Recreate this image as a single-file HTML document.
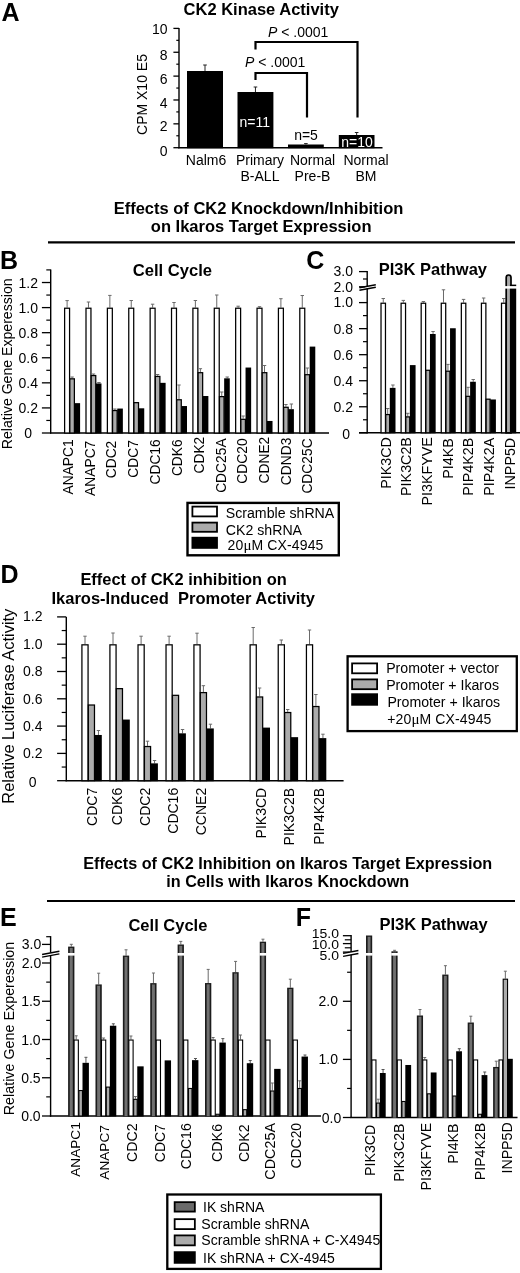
<!DOCTYPE html>
<html lang="en"><head><meta charset="utf-8"><title>CK2 Kinase Activity figure</title>
<style>html,body{margin:0;padding:0;background:#fff}svg{display:block;will-change:transform}text{font-family:'Liberation Sans', sans-serif}</style></head><body>
<svg width="520" height="1273" viewBox="0 0 520 1273">
<rect x="0" y="0" width="520" height="1273" fill="#fff"/>
<text x="1.40" y="20.50" font-size="25" text-anchor="start" font-weight="bold" fill="#000" >A</text>
<text x="261.20" y="14.80" font-size="16.5" text-anchor="middle" font-weight="bold" fill="#000" >CK2 Kinase Activity</text>
<line x1="179.00" y1="28.00" x2="179.00" y2="148.30" stroke="#000" stroke-width="1.4" />
<line x1="178.30" y1="147.70" x2="382.50" y2="147.70" stroke="#000" stroke-width="1.4" />
<line x1="173.40" y1="147.70" x2="179.00" y2="147.70" stroke="#000" stroke-width="1.3" />
<text x="167.60" y="156.00" font-size="14" text-anchor="end" font-weight="normal" fill="#000" >0</text>
<line x1="173.40" y1="123.84" x2="179.00" y2="123.84" stroke="#000" stroke-width="1.3" />
<text x="167.60" y="131.40" font-size="14" text-anchor="end" font-weight="normal" fill="#000" >2</text>
<line x1="173.40" y1="99.98" x2="179.00" y2="99.98" stroke="#000" stroke-width="1.3" />
<text x="167.60" y="107.60" font-size="14" text-anchor="end" font-weight="normal" fill="#000" >4</text>
<line x1="173.40" y1="76.12" x2="179.00" y2="76.12" stroke="#000" stroke-width="1.3" />
<text x="167.60" y="83.70" font-size="14" text-anchor="end" font-weight="normal" fill="#000" >6</text>
<line x1="173.40" y1="52.26" x2="179.00" y2="52.26" stroke="#000" stroke-width="1.3" />
<text x="167.60" y="59.60" font-size="14" text-anchor="end" font-weight="normal" fill="#000" >8</text>
<line x1="173.40" y1="28.40" x2="179.00" y2="28.40" stroke="#000" stroke-width="1.3" />
<text x="167.60" y="33.60" font-size="14" text-anchor="end" font-weight="normal" fill="#000" >10</text>
<line x1="176.30" y1="135.77" x2="179.00" y2="135.77" stroke="#000" stroke-width="1.2" />
<line x1="176.30" y1="111.91" x2="179.00" y2="111.91" stroke="#000" stroke-width="1.2" />
<line x1="176.30" y1="88.05" x2="179.00" y2="88.05" stroke="#000" stroke-width="1.2" />
<line x1="176.30" y1="64.19" x2="179.00" y2="64.19" stroke="#000" stroke-width="1.2" />
<line x1="176.30" y1="40.33" x2="179.00" y2="40.33" stroke="#000" stroke-width="1.2" />
<text transform="translate(146.50,94.50) rotate(-90)" font-size="14" text-anchor="middle" font-weight="normal">CPM X10 E5</text>
<rect x="187" y="71" width="36" height="77.19999999999999" fill="#000"/>
<line x1="205.00" y1="71.00" x2="205.00" y2="65.00" stroke="#222" stroke-width="1.0" />
<line x1="203.20" y1="65.00" x2="206.80" y2="65.00" stroke="#222" stroke-width="1.0" />
<rect x="237.5" y="92" width="35.89999999999998" height="56.19999999999999" fill="#000"/>
<line x1="255.45" y1="92.00" x2="255.45" y2="87.00" stroke="#222" stroke-width="1.0" />
<line x1="253.65" y1="87.00" x2="257.25" y2="87.00" stroke="#222" stroke-width="1.0" />
<rect x="288" y="144.5" width="35.80000000000001" height="3.6999999999999886" fill="#000"/>
<line x1="305.90" y1="144.50" x2="305.90" y2="143.60" stroke="#222" stroke-width="1.0" />
<line x1="304.10" y1="143.60" x2="307.70" y2="143.60" stroke="#222" stroke-width="1.0" />
<rect x="338.8" y="135" width="35.69999999999999" height="13.199999999999989" fill="#000"/>
<line x1="356.65" y1="135.00" x2="356.65" y2="132.50" stroke="#222" stroke-width="1.0" />
<line x1="354.85" y1="132.50" x2="358.45" y2="132.50" stroke="#222" stroke-width="1.0" />
<text x="254.80" y="126.80" font-size="14" text-anchor="middle" font-weight="normal" fill="#fff" >n=11</text>
<text x="306.00" y="140.30" font-size="14" text-anchor="middle" font-weight="normal" fill="#000" >n=5</text>
<text x="357.00" y="147.30" font-size="14" text-anchor="middle" font-weight="normal" fill="#fff" >n=10</text>
<path d="M255.5 49.5 V42 H357.5 V117.5" fill="none" stroke="#000" stroke-width="2.2"/>
<path d="M255.5 80 V73 H307 V117.5" fill="none" stroke="#000" stroke-width="2.2"/>
<text x="268" y="37" font-size="14"><tspan font-style="italic">P</tspan> &lt; .0001</text>
<text x="245" y="67" font-size="14"><tspan font-style="italic">P</tspan> &lt; .0001</text>
<text x="206.00" y="164.80" font-size="14" text-anchor="middle" font-weight="normal" fill="#000" >Nalm6</text>
<text x="260.00" y="164.80" font-size="14" text-anchor="middle" font-weight="normal" fill="#000" >Primary</text>
<text x="260.00" y="181.00" font-size="14" text-anchor="middle" font-weight="normal" fill="#000" >B-ALL</text>
<text x="312.50" y="164.80" font-size="14" text-anchor="middle" font-weight="normal" fill="#000" >Normal</text>
<text x="312.50" y="181.00" font-size="14" text-anchor="middle" font-weight="normal" fill="#000" >Pre-B</text>
<text x="366.00" y="164.80" font-size="14" text-anchor="middle" font-weight="normal" fill="#000" >Normal</text>
<text x="366.00" y="181.00" font-size="14" text-anchor="middle" font-weight="normal" fill="#000" >BM</text>
<text x="258.50" y="214.30" font-size="16.5" text-anchor="middle" font-weight="bold" fill="#000" >Effects of CK2 Knockdown/Inhibition</text>
<text x="261.20" y="231.50" font-size="16.5" text-anchor="middle" font-weight="bold" fill="#000" >on Ikaros Target Expression</text>
<line x1="48.00" y1="242.40" x2="515.00" y2="242.40" stroke="#000" stroke-width="2.2" />
<text x="0.10" y="268.80" font-size="25" text-anchor="start" font-weight="bold" fill="#000" >B</text>
<text x="172.40" y="276.20" font-size="16.6" text-anchor="middle" font-weight="bold" fill="#000" >Cell Cycle</text>
<line x1="50.70" y1="269.40" x2="50.70" y2="433.60" stroke="#000" stroke-width="1.4" />
<line x1="41.90" y1="433.00" x2="50.70" y2="433.00" stroke="#000" stroke-width="1.3" />
<line x1="41.90" y1="407.92" x2="50.70" y2="407.92" stroke="#000" stroke-width="1.3" />
<line x1="41.90" y1="382.84" x2="50.70" y2="382.84" stroke="#000" stroke-width="1.3" />
<line x1="41.90" y1="357.76" x2="50.70" y2="357.76" stroke="#000" stroke-width="1.3" />
<line x1="41.90" y1="332.68" x2="50.70" y2="332.68" stroke="#000" stroke-width="1.3" />
<line x1="41.90" y1="307.60" x2="50.70" y2="307.60" stroke="#000" stroke-width="1.3" />
<line x1="41.90" y1="282.52" x2="50.70" y2="282.52" stroke="#000" stroke-width="1.3" />
<line x1="46.30" y1="420.46" x2="50.70" y2="420.46" stroke="#000" stroke-width="1.2" />
<line x1="46.30" y1="395.38" x2="50.70" y2="395.38" stroke="#000" stroke-width="1.2" />
<line x1="46.30" y1="370.30" x2="50.70" y2="370.30" stroke="#000" stroke-width="1.2" />
<line x1="46.30" y1="345.22" x2="50.70" y2="345.22" stroke="#000" stroke-width="1.2" />
<line x1="46.30" y1="320.14" x2="50.70" y2="320.14" stroke="#000" stroke-width="1.2" />
<line x1="46.30" y1="295.06" x2="50.70" y2="295.06" stroke="#000" stroke-width="1.2" />
<line x1="46.30" y1="269.90" x2="50.70" y2="269.90" stroke="#000" stroke-width="1.2" />
<text x="28.20" y="438.00" font-size="14" text-anchor="middle" font-weight="normal" fill="#000" >0</text>
<text x="28.20" y="412.92" font-size="14" text-anchor="middle" font-weight="normal" fill="#000" >0.2</text>
<text x="28.20" y="387.84" font-size="14" text-anchor="middle" font-weight="normal" fill="#000" >0.4</text>
<text x="28.20" y="362.76" font-size="14" text-anchor="middle" font-weight="normal" fill="#000" >0.6</text>
<text x="28.20" y="337.68" font-size="14" text-anchor="middle" font-weight="normal" fill="#000" >0.8</text>
<text x="28.20" y="312.60" font-size="14" text-anchor="middle" font-weight="normal" fill="#000" >1.0</text>
<text x="28.20" y="287.52" font-size="14" text-anchor="middle" font-weight="normal" fill="#000" >1.2</text>
<line x1="50.00" y1="433.00" x2="329.00" y2="433.00" stroke="#000" stroke-width="1.4" />
<text transform="translate(12.30,363.80) rotate(-90)" font-size="14.1" text-anchor="middle" font-weight="normal">Relative Gene Experession</text>
<line x1="67.10" y1="307.60" x2="67.10" y2="300.60" stroke="#6a6a6a" stroke-width="1.0" />
<line x1="65.40" y1="300.60" x2="68.80" y2="300.60" stroke="#6a6a6a" stroke-width="1.0" />
<rect x="64.62" y="308.23" width="4.95" height="124.77" fill="#fff" stroke="#000" stroke-width="1.25" />
<line x1="72.10" y1="378.20" x2="72.10" y2="377.00" stroke="#6a6a6a" stroke-width="1.0" />
<line x1="70.40" y1="377.00" x2="73.80" y2="377.00" stroke="#6a6a6a" stroke-width="1.0" />
<rect x="69.83" y="378.83" width="4.55" height="54.17" fill="#ababab" stroke="#000" stroke-width="1.25" />
<rect x="74.50" y="403.15" width="5.60" height="30.35" fill="#000"/>
<text transform="translate(72.50,439.30) rotate(-90)" font-size="13.8" text-anchor="end" font-weight="normal">ANAPC1</text>
<line x1="88.48" y1="307.60" x2="88.48" y2="302.00" stroke="#6a6a6a" stroke-width="1.0" />
<line x1="86.78" y1="302.00" x2="90.18" y2="302.00" stroke="#6a6a6a" stroke-width="1.0" />
<rect x="86.00" y="308.23" width="4.95" height="124.77" fill="#fff" stroke="#000" stroke-width="1.25" />
<line x1="93.48" y1="374.94" x2="93.48" y2="374.00" stroke="#6a6a6a" stroke-width="1.0" />
<line x1="91.78" y1="374.00" x2="95.18" y2="374.00" stroke="#6a6a6a" stroke-width="1.0" />
<rect x="91.20" y="375.56" width="4.55" height="57.44" fill="#ababab" stroke="#000" stroke-width="1.25" />
<line x1="98.93" y1="383.47" x2="98.93" y2="382.50" stroke="#6a6a6a" stroke-width="1.0" />
<line x1="97.23" y1="382.50" x2="100.63" y2="382.50" stroke="#6a6a6a" stroke-width="1.0" />
<rect x="95.88" y="383.47" width="5.60" height="50.03" fill="#000"/>
<text transform="translate(94.50,440.70) rotate(-90)" font-size="13.8" text-anchor="end" font-weight="normal">ANAPC7</text>
<line x1="109.86" y1="307.60" x2="109.86" y2="295.40" stroke="#6a6a6a" stroke-width="1.0" />
<line x1="108.16" y1="295.40" x2="111.56" y2="295.40" stroke="#6a6a6a" stroke-width="1.0" />
<rect x="107.38" y="308.23" width="4.95" height="124.77" fill="#fff" stroke="#000" stroke-width="1.25" />
<line x1="114.86" y1="409.93" x2="114.86" y2="409.00" stroke="#6a6a6a" stroke-width="1.0" />
<line x1="113.16" y1="409.00" x2="116.56" y2="409.00" stroke="#6a6a6a" stroke-width="1.0" />
<rect x="112.58" y="410.55" width="4.55" height="22.45" fill="#ababab" stroke="#000" stroke-width="1.25" />
<rect x="117.26" y="408.55" width="5.60" height="24.95" fill="#000"/>
<text transform="translate(116.10,440.70) rotate(-90)" font-size="13.8" text-anchor="end" font-weight="normal">CDC2</text>
<line x1="131.24" y1="307.60" x2="131.24" y2="300.50" stroke="#6a6a6a" stroke-width="1.0" />
<line x1="129.54" y1="300.50" x2="132.94" y2="300.50" stroke="#6a6a6a" stroke-width="1.0" />
<rect x="128.76" y="308.23" width="4.95" height="124.77" fill="#fff" stroke="#000" stroke-width="1.25" />
<rect x="133.96" y="402.65" width="4.55" height="30.35" fill="#ababab" stroke="#000" stroke-width="1.25" />
<rect x="138.64" y="408.30" width="5.60" height="25.20" fill="#000"/>
<text transform="translate(138.20,440.10) rotate(-90)" font-size="13.8" text-anchor="end" font-weight="normal">CDC7</text>
<line x1="152.62" y1="307.60" x2="152.62" y2="304.20" stroke="#6a6a6a" stroke-width="1.0" />
<line x1="150.92" y1="304.20" x2="154.32" y2="304.20" stroke="#6a6a6a" stroke-width="1.0" />
<rect x="150.14" y="308.23" width="4.95" height="124.77" fill="#fff" stroke="#000" stroke-width="1.25" />
<line x1="157.62" y1="375.82" x2="157.62" y2="374.50" stroke="#6a6a6a" stroke-width="1.0" />
<line x1="155.92" y1="374.50" x2="159.32" y2="374.50" stroke="#6a6a6a" stroke-width="1.0" />
<rect x="155.34" y="376.44" width="4.55" height="56.56" fill="#ababab" stroke="#000" stroke-width="1.25" />
<rect x="160.02" y="382.84" width="5.60" height="50.66" fill="#000"/>
<text transform="translate(159.90,439.30) rotate(-90)" font-size="13.8" text-anchor="end" font-weight="normal">CDC16</text>
<line x1="174.00" y1="307.60" x2="174.00" y2="302.50" stroke="#6a6a6a" stroke-width="1.0" />
<line x1="172.30" y1="302.50" x2="175.70" y2="302.50" stroke="#6a6a6a" stroke-width="1.0" />
<rect x="171.52" y="308.23" width="4.95" height="124.77" fill="#fff" stroke="#000" stroke-width="1.25" />
<line x1="179.00" y1="399.14" x2="179.00" y2="385.00" stroke="#6a6a6a" stroke-width="1.0" />
<line x1="177.30" y1="385.00" x2="180.70" y2="385.00" stroke="#6a6a6a" stroke-width="1.0" />
<rect x="176.72" y="399.77" width="4.55" height="33.23" fill="#ababab" stroke="#000" stroke-width="1.25" />
<rect x="181.40" y="406.04" width="5.60" height="27.46" fill="#000"/>
<text transform="translate(181.70,439.30) rotate(-90)" font-size="13.8" text-anchor="end" font-weight="normal">CDK6</text>
<line x1="195.38" y1="307.60" x2="195.38" y2="300.50" stroke="#6a6a6a" stroke-width="1.0" />
<line x1="193.68" y1="300.50" x2="197.08" y2="300.50" stroke="#6a6a6a" stroke-width="1.0" />
<rect x="192.91" y="308.23" width="4.95" height="124.77" fill="#fff" stroke="#000" stroke-width="1.25" />
<line x1="200.38" y1="372.06" x2="200.38" y2="368.70" stroke="#6a6a6a" stroke-width="1.0" />
<line x1="198.68" y1="368.70" x2="202.08" y2="368.70" stroke="#6a6a6a" stroke-width="1.0" />
<rect x="198.10" y="372.68" width="4.55" height="60.32" fill="#ababab" stroke="#000" stroke-width="1.25" />
<rect x="202.78" y="396.01" width="5.60" height="37.49" fill="#000"/>
<text transform="translate(203.70,436.70) rotate(-90)" font-size="13.8" text-anchor="end" font-weight="normal">CDK2</text>
<line x1="216.76" y1="307.60" x2="216.76" y2="295.00" stroke="#6a6a6a" stroke-width="1.0" />
<line x1="215.06" y1="295.00" x2="218.46" y2="295.00" stroke="#6a6a6a" stroke-width="1.0" />
<rect x="214.28" y="308.23" width="4.95" height="124.77" fill="#fff" stroke="#000" stroke-width="1.25" />
<line x1="221.76" y1="396.01" x2="221.76" y2="392.00" stroke="#6a6a6a" stroke-width="1.0" />
<line x1="220.06" y1="392.00" x2="223.46" y2="392.00" stroke="#6a6a6a" stroke-width="1.0" />
<rect x="219.48" y="396.63" width="4.55" height="36.37" fill="#ababab" stroke="#000" stroke-width="1.25" />
<line x1="227.21" y1="378.33" x2="227.21" y2="377.00" stroke="#6a6a6a" stroke-width="1.0" />
<line x1="225.51" y1="377.00" x2="228.91" y2="377.00" stroke="#6a6a6a" stroke-width="1.0" />
<rect x="224.16" y="378.33" width="5.60" height="55.17" fill="#000"/>
<text transform="translate(225.70,438.40) rotate(-90)" font-size="13.8" text-anchor="end" font-weight="normal">CDC25A</text>
<line x1="238.14" y1="307.60" x2="238.14" y2="306.20" stroke="#6a6a6a" stroke-width="1.0" />
<line x1="236.44" y1="306.20" x2="239.84" y2="306.20" stroke="#6a6a6a" stroke-width="1.0" />
<rect x="235.66" y="308.23" width="4.95" height="124.77" fill="#fff" stroke="#000" stroke-width="1.25" />
<line x1="243.14" y1="418.70" x2="243.14" y2="416.00" stroke="#6a6a6a" stroke-width="1.0" />
<line x1="241.44" y1="416.00" x2="244.84" y2="416.00" stroke="#6a6a6a" stroke-width="1.0" />
<rect x="240.86" y="419.33" width="4.55" height="13.67" fill="#ababab" stroke="#000" stroke-width="1.25" />
<rect x="245.54" y="367.54" width="5.60" height="65.96" fill="#000"/>
<text transform="translate(247.20,438.40) rotate(-90)" font-size="13.8" text-anchor="end" font-weight="normal">CDC20</text>
<line x1="259.52" y1="307.60" x2="259.52" y2="306.70" stroke="#6a6a6a" stroke-width="1.0" />
<line x1="257.82" y1="306.70" x2="261.22" y2="306.70" stroke="#6a6a6a" stroke-width="1.0" />
<rect x="257.04" y="308.23" width="4.95" height="124.77" fill="#fff" stroke="#000" stroke-width="1.25" />
<line x1="264.52" y1="372.06" x2="264.52" y2="365.50" stroke="#6a6a6a" stroke-width="1.0" />
<line x1="262.82" y1="365.50" x2="266.22" y2="365.50" stroke="#6a6a6a" stroke-width="1.0" />
<rect x="262.24" y="372.68" width="4.55" height="60.32" fill="#ababab" stroke="#000" stroke-width="1.25" />
<rect x="266.92" y="420.96" width="5.60" height="12.54" fill="#000"/>
<text transform="translate(269.10,436.70) rotate(-90)" font-size="13.8" text-anchor="end" font-weight="normal">CDNE2</text>
<line x1="280.90" y1="307.60" x2="280.90" y2="298.70" stroke="#6a6a6a" stroke-width="1.0" />
<line x1="279.20" y1="298.70" x2="282.60" y2="298.70" stroke="#6a6a6a" stroke-width="1.0" />
<rect x="278.42" y="308.23" width="4.95" height="124.77" fill="#fff" stroke="#000" stroke-width="1.25" />
<line x1="285.90" y1="406.67" x2="285.90" y2="404.50" stroke="#6a6a6a" stroke-width="1.0" />
<line x1="284.20" y1="404.50" x2="287.60" y2="404.50" stroke="#6a6a6a" stroke-width="1.0" />
<rect x="283.62" y="407.29" width="4.55" height="25.71" fill="#ababab" stroke="#000" stroke-width="1.25" />
<line x1="291.35" y1="409.17" x2="291.35" y2="404.00" stroke="#6a6a6a" stroke-width="1.0" />
<line x1="289.65" y1="404.00" x2="293.05" y2="404.00" stroke="#6a6a6a" stroke-width="1.0" />
<rect x="288.30" y="409.17" width="5.60" height="24.33" fill="#000"/>
<text transform="translate(290.90,437.60) rotate(-90)" font-size="13.8" text-anchor="end" font-weight="normal">CDND3</text>
<line x1="302.28" y1="307.60" x2="302.28" y2="295.50" stroke="#6a6a6a" stroke-width="1.0" />
<line x1="300.58" y1="295.50" x2="303.98" y2="295.50" stroke="#6a6a6a" stroke-width="1.0" />
<rect x="299.80" y="308.23" width="4.95" height="124.77" fill="#fff" stroke="#000" stroke-width="1.25" />
<line x1="307.28" y1="374.06" x2="307.28" y2="368.00" stroke="#6a6a6a" stroke-width="1.0" />
<line x1="305.58" y1="368.00" x2="308.98" y2="368.00" stroke="#6a6a6a" stroke-width="1.0" />
<rect x="305.00" y="374.69" width="4.55" height="58.31" fill="#ababab" stroke="#000" stroke-width="1.25" />
<rect x="309.68" y="346.60" width="5.60" height="86.90" fill="#000"/>
<text transform="translate(312.40,438.40) rotate(-90)" font-size="13.8" text-anchor="end" font-weight="normal">CDC25C</text>
<rect x="187.50" y="502.90" width="151.30" height="52.40" fill="none" stroke="#000" stroke-width="2.4" />
<rect x="192.40" y="506.60" width="24.60" height="9.80" fill="#fff" stroke="#000" stroke-width="1.8" />
<rect x="192.40" y="522.60" width="24.60" height="9.20" fill="#ababab" stroke="#000" stroke-width="1.8" />
<rect x="192.40" y="537.70" width="24.60" height="10.20" fill="#000" stroke="#000" stroke-width="1.8" />
<text x="225.80" y="518.00" font-size="14.15" text-anchor="start" font-weight="normal" fill="#000" >Scramble shRNA</text>
<text x="225.80" y="534.80" font-size="14.15" text-anchor="start" font-weight="normal" fill="#000" >CK2 shRNA</text>
<text x="227.6" y="549.8" font-size="14" letter-spacing="0.12">20<tspan font-size="15" font-family="'Liberation Serif', 'DejaVu Serif', serif">&#956;</tspan>M CX-4945</text>
<text x="306.30" y="269.40" font-size="25" text-anchor="start" font-weight="bold" fill="#000" >C</text>
<text x="432.90" y="275.00" font-size="16.5" text-anchor="middle" font-weight="bold" fill="#000" >PI3K Pathway</text>
<line x1="367.20" y1="271.00" x2="367.20" y2="433.40" stroke="#000" stroke-width="1.4" />
<line x1="359.00" y1="432.80" x2="367.20" y2="432.80" stroke="#000" stroke-width="1.3" />
<line x1="359.00" y1="406.76" x2="367.20" y2="406.76" stroke="#000" stroke-width="1.3" />
<line x1="359.00" y1="380.72" x2="367.20" y2="380.72" stroke="#000" stroke-width="1.3" />
<line x1="359.00" y1="354.68" x2="367.20" y2="354.68" stroke="#000" stroke-width="1.3" />
<line x1="359.00" y1="328.64" x2="367.20" y2="328.64" stroke="#000" stroke-width="1.3" />
<line x1="359.00" y1="302.60" x2="367.20" y2="302.60" stroke="#000" stroke-width="1.3" />
<line x1="359.00" y1="271.60" x2="367.20" y2="271.60" stroke="#000" stroke-width="1.3" />
<line x1="359.00" y1="286.80" x2="367.20" y2="286.80" stroke="#000" stroke-width="1.3" />
<line x1="363.00" y1="419.78" x2="367.20" y2="419.78" stroke="#000" stroke-width="1.2" />
<line x1="363.00" y1="393.74" x2="367.20" y2="393.74" stroke="#000" stroke-width="1.2" />
<line x1="363.00" y1="367.70" x2="367.20" y2="367.70" stroke="#000" stroke-width="1.2" />
<line x1="363.00" y1="341.66" x2="367.20" y2="341.66" stroke="#000" stroke-width="1.2" />
<line x1="363.00" y1="315.62" x2="367.20" y2="315.62" stroke="#000" stroke-width="1.2" />
<line x1="363.00" y1="279.00" x2="367.20" y2="279.00" stroke="#000" stroke-width="1.2" />
<text x="353.00" y="411.76" font-size="14" text-anchor="end" font-weight="normal" fill="#000" >0.2</text>
<text x="353.00" y="385.72" font-size="14" text-anchor="end" font-weight="normal" fill="#000" >0.4</text>
<text x="353.00" y="359.68" font-size="14" text-anchor="end" font-weight="normal" fill="#000" >0.6</text>
<text x="353.00" y="333.64" font-size="14" text-anchor="end" font-weight="normal" fill="#000" >0.8</text>
<text x="353.00" y="306.80" font-size="14" text-anchor="end" font-weight="normal" fill="#000" >1.0</text>
<text x="350.00" y="439.10" font-size="14" text-anchor="end" font-weight="normal" fill="#000" >0</text>
<text x="353.00" y="292.00" font-size="14" text-anchor="end" font-weight="normal" fill="#000" >2.0</text>
<text x="353.00" y="275.50" font-size="14" text-anchor="end" font-weight="normal" fill="#000" >3.0</text>
<rect x="365.2" y="286.05" width="4" height="2.50" fill="#fff"/>
<line x1="359.40" y1="287.70" x2="375.80" y2="284.80" stroke="#000" stroke-width="1.4" />
<line x1="359.40" y1="290.20" x2="375.80" y2="287.30" stroke="#000" stroke-width="1.4" />
<line x1="359.00" y1="432.80" x2="520.00" y2="432.80" stroke="#000" stroke-width="1.4" />
<line x1="383.25" y1="302.60" x2="383.25" y2="298.50" stroke="#6a6a6a" stroke-width="1.0" />
<line x1="381.55" y1="298.50" x2="384.95" y2="298.50" stroke="#6a6a6a" stroke-width="1.0" />
<rect x="381.02" y="303.23" width="4.45" height="129.57" fill="#fff" stroke="#000" stroke-width="1.25" />
<line x1="387.70" y1="413.92" x2="387.70" y2="408.50" stroke="#6a6a6a" stroke-width="1.0" />
<line x1="386.00" y1="408.50" x2="389.40" y2="408.50" stroke="#6a6a6a" stroke-width="1.0" />
<rect x="385.72" y="414.55" width="3.95" height="18.25" fill="#ababab" stroke="#000" stroke-width="1.25" />
<line x1="392.90" y1="387.88" x2="392.90" y2="385.00" stroke="#6a6a6a" stroke-width="1.0" />
<line x1="391.20" y1="385.00" x2="394.60" y2="385.00" stroke="#6a6a6a" stroke-width="1.0" />
<rect x="389.80" y="387.88" width="5.70" height="45.42" fill="#000"/>
<text transform="translate(390.60,437.10) rotate(-90)" font-size="14.3" text-anchor="end" font-weight="normal">PIK3CD</text>
<line x1="403.33" y1="302.60" x2="403.33" y2="300.40" stroke="#6a6a6a" stroke-width="1.0" />
<line x1="401.63" y1="300.40" x2="405.03" y2="300.40" stroke="#6a6a6a" stroke-width="1.0" />
<rect x="401.10" y="303.23" width="4.45" height="129.57" fill="#fff" stroke="#000" stroke-width="1.25" />
<line x1="407.78" y1="416.26" x2="407.78" y2="413.30" stroke="#6a6a6a" stroke-width="1.0" />
<line x1="406.08" y1="413.30" x2="409.48" y2="413.30" stroke="#6a6a6a" stroke-width="1.0" />
<rect x="405.80" y="416.89" width="3.95" height="15.91" fill="#ababab" stroke="#000" stroke-width="1.25" />
<rect x="409.88" y="365.10" width="5.70" height="68.20" fill="#000"/>
<text transform="translate(411.00,437.10) rotate(-90)" font-size="14.3" text-anchor="end" font-weight="normal">PIK3C2B</text>
<line x1="423.41" y1="302.60" x2="423.41" y2="301.50" stroke="#6a6a6a" stroke-width="1.0" />
<line x1="421.71" y1="301.50" x2="425.11" y2="301.50" stroke="#6a6a6a" stroke-width="1.0" />
<rect x="421.18" y="303.23" width="4.45" height="129.57" fill="#fff" stroke="#000" stroke-width="1.25" />
<rect x="425.88" y="370.28" width="3.95" height="62.52" fill="#ababab" stroke="#000" stroke-width="1.25" />
<line x1="433.06" y1="333.98" x2="433.06" y2="331.50" stroke="#6a6a6a" stroke-width="1.0" />
<line x1="431.36" y1="331.50" x2="434.76" y2="331.50" stroke="#6a6a6a" stroke-width="1.0" />
<rect x="429.96" y="333.98" width="5.70" height="99.32" fill="#000"/>
<text transform="translate(432.20,437.10) rotate(-90)" font-size="14.3" text-anchor="end" font-weight="normal">PI3KFYVE</text>
<line x1="443.49" y1="302.60" x2="443.49" y2="289.80" stroke="#6a6a6a" stroke-width="1.0" />
<line x1="441.79" y1="289.80" x2="445.19" y2="289.80" stroke="#6a6a6a" stroke-width="1.0" />
<rect x="441.26" y="303.23" width="4.45" height="129.57" fill="#fff" stroke="#000" stroke-width="1.25" />
<line x1="447.94" y1="370.56" x2="447.94" y2="364.40" stroke="#6a6a6a" stroke-width="1.0" />
<line x1="446.24" y1="364.40" x2="449.64" y2="364.40" stroke="#6a6a6a" stroke-width="1.0" />
<rect x="445.96" y="371.19" width="3.95" height="61.61" fill="#ababab" stroke="#000" stroke-width="1.25" />
<rect x="450.04" y="328.25" width="5.70" height="105.05" fill="#000"/>
<text transform="translate(452.70,438.20) rotate(-90)" font-size="14.3" text-anchor="end" font-weight="normal">PI4KB</text>
<line x1="463.57" y1="302.60" x2="463.57" y2="299.40" stroke="#6a6a6a" stroke-width="1.0" />
<line x1="461.87" y1="299.40" x2="465.27" y2="299.40" stroke="#6a6a6a" stroke-width="1.0" />
<rect x="461.34" y="303.23" width="4.45" height="129.57" fill="#fff" stroke="#000" stroke-width="1.25" />
<line x1="468.02" y1="395.69" x2="468.02" y2="387.30" stroke="#6a6a6a" stroke-width="1.0" />
<line x1="466.32" y1="387.30" x2="469.72" y2="387.30" stroke="#6a6a6a" stroke-width="1.0" />
<rect x="466.04" y="396.32" width="3.95" height="36.48" fill="#ababab" stroke="#000" stroke-width="1.25" />
<line x1="473.22" y1="381.76" x2="473.22" y2="379.50" stroke="#6a6a6a" stroke-width="1.0" />
<line x1="471.52" y1="379.50" x2="474.92" y2="379.50" stroke="#6a6a6a" stroke-width="1.0" />
<rect x="470.12" y="381.76" width="5.70" height="51.54" fill="#000"/>
<text transform="translate(473.30,437.80) rotate(-90)" font-size="14.3" text-anchor="end" font-weight="normal">PIP4K2B</text>
<line x1="483.65" y1="302.60" x2="483.65" y2="298.00" stroke="#6a6a6a" stroke-width="1.0" />
<line x1="481.95" y1="298.00" x2="485.35" y2="298.00" stroke="#6a6a6a" stroke-width="1.0" />
<rect x="481.42" y="303.23" width="4.45" height="129.57" fill="#fff" stroke="#000" stroke-width="1.25" />
<rect x="486.12" y="399.18" width="3.95" height="33.62" fill="#ababab" stroke="#000" stroke-width="1.25" />
<rect x="490.20" y="399.47" width="5.70" height="33.83" fill="#000"/>
<text transform="translate(493.70,437.80) rotate(-90)" font-size="14.3" text-anchor="end" font-weight="normal">PIP4K2A</text>
<line x1="503.73" y1="302.60" x2="503.73" y2="298.50" stroke="#6a6a6a" stroke-width="1.0" />
<line x1="502.03" y1="298.50" x2="505.43" y2="298.50" stroke="#6a6a6a" stroke-width="1.0" />
<rect x="501.50" y="303.23" width="4.45" height="129.57" fill="#fff" stroke="#000" stroke-width="1.25" />
<path d="M506.2 432.8 V277.6 Q506.2 275 508.6 275 Q511 275 511 277.6 V432.8 Z" fill="#ababab" stroke="#000" stroke-width="1.7"/>
<rect x="509.9" y="284.6" width="6.3" height="148.70" fill="#000"/>
<rect x="504" y="286.1" width="13.5" height="2.5" fill="#fff"/>
<text transform="translate(515.10,437.80) rotate(-90)" font-size="14.3" text-anchor="end" font-weight="normal">INPP5D</text>
<text x="0.40" y="582.90" font-size="25" text-anchor="start" font-weight="bold" fill="#000" >D</text>
<text x="183.60" y="585.00" font-size="16.45" text-anchor="middle" font-weight="bold" fill="#000" >Effect of CK2 inhibition on</text>
<text x="183.20" y="604.40" font-size="16.5" text-anchor="middle" font-weight="bold" fill="#000" >Ikaros-Induced&#160; Promoter Activity</text>
<line x1="66.30" y1="616.90" x2="66.30" y2="781.30" stroke="#000" stroke-width="1.4" />
<line x1="57.10" y1="780.70" x2="66.30" y2="780.70" stroke="#000" stroke-width="1.3" />
<line x1="57.10" y1="753.40" x2="66.30" y2="753.40" stroke="#000" stroke-width="1.3" />
<line x1="57.10" y1="726.10" x2="66.30" y2="726.10" stroke="#000" stroke-width="1.3" />
<line x1="57.10" y1="698.80" x2="66.30" y2="698.80" stroke="#000" stroke-width="1.3" />
<line x1="57.10" y1="671.50" x2="66.30" y2="671.50" stroke="#000" stroke-width="1.3" />
<line x1="57.10" y1="644.20" x2="66.30" y2="644.20" stroke="#000" stroke-width="1.3" />
<line x1="57.10" y1="616.90" x2="66.30" y2="616.90" stroke="#000" stroke-width="1.3" />
<line x1="61.70" y1="767.05" x2="66.30" y2="767.05" stroke="#000" stroke-width="1.2" />
<line x1="61.70" y1="739.75" x2="66.30" y2="739.75" stroke="#000" stroke-width="1.2" />
<line x1="61.70" y1="712.45" x2="66.30" y2="712.45" stroke="#000" stroke-width="1.2" />
<line x1="61.70" y1="685.15" x2="66.30" y2="685.15" stroke="#000" stroke-width="1.2" />
<line x1="61.70" y1="657.85" x2="66.30" y2="657.85" stroke="#000" stroke-width="1.2" />
<line x1="61.70" y1="630.55" x2="66.30" y2="630.55" stroke="#000" stroke-width="1.2" />
<text x="32.70" y="787.30" font-size="14" text-anchor="middle" font-weight="normal" fill="#000" >0</text>
<text x="32.70" y="758.10" font-size="14" text-anchor="middle" font-weight="normal" fill="#000" >0.2</text>
<text x="32.70" y="730.80" font-size="14" text-anchor="middle" font-weight="normal" fill="#000" >0.4</text>
<text x="32.70" y="703.50" font-size="14" text-anchor="middle" font-weight="normal" fill="#000" >0.6</text>
<text x="32.70" y="676.20" font-size="14" text-anchor="middle" font-weight="normal" fill="#000" >0.8</text>
<text x="32.70" y="648.90" font-size="14" text-anchor="middle" font-weight="normal" fill="#000" >1.0</text>
<text x="32.70" y="621.10" font-size="14" text-anchor="middle" font-weight="normal" fill="#000" >1.2</text>
<line x1="65.60" y1="780.70" x2="343.60" y2="780.70" stroke="#000" stroke-width="1.4" />
<text transform="translate(14.40,706.20) rotate(-90)" font-size="16.4" text-anchor="middle" font-weight="normal">Relative Luciferase Activity</text>
<line x1="85.00" y1="644.20" x2="85.00" y2="636.20" stroke="#6a6a6a" stroke-width="1.0" />
<line x1="83.30" y1="636.20" x2="86.70" y2="636.20" stroke="#6a6a6a" stroke-width="1.0" />
<rect x="81.92" y="644.83" width="6.15" height="135.88" fill="#fff" stroke="#000" stroke-width="1.25" />
<rect x="88.33" y="705.02" width="6.15" height="75.68" fill="#ababab" stroke="#000" stroke-width="1.25" />
<line x1="98.45" y1="734.97" x2="98.45" y2="730.50" stroke="#6a6a6a" stroke-width="1.0" />
<line x1="96.75" y1="730.50" x2="100.15" y2="730.50" stroke="#6a6a6a" stroke-width="1.0" />
<rect x="94.60" y="734.97" width="7.20" height="46.23" fill="#000"/>
<text transform="translate(96.50,787.80) rotate(-90)" font-size="14" text-anchor="end" font-weight="normal">CDC7</text>
<line x1="113.00" y1="644.20" x2="113.00" y2="633.00" stroke="#6a6a6a" stroke-width="1.0" />
<line x1="111.30" y1="633.00" x2="114.70" y2="633.00" stroke="#6a6a6a" stroke-width="1.0" />
<rect x="109.92" y="644.83" width="6.15" height="135.88" fill="#fff" stroke="#000" stroke-width="1.25" />
<rect x="116.33" y="688.64" width="6.15" height="92.06" fill="#ababab" stroke="#000" stroke-width="1.25" />
<rect x="122.60" y="719.55" width="7.20" height="61.65" fill="#000"/>
<text transform="translate(122.10,787.80) rotate(-90)" font-size="14" text-anchor="end" font-weight="normal">CDK6</text>
<line x1="141.10" y1="644.20" x2="141.10" y2="636.20" stroke="#6a6a6a" stroke-width="1.0" />
<line x1="139.40" y1="636.20" x2="142.80" y2="636.20" stroke="#6a6a6a" stroke-width="1.0" />
<rect x="138.03" y="644.83" width="6.15" height="135.88" fill="#fff" stroke="#000" stroke-width="1.25" />
<line x1="147.50" y1="745.89" x2="147.50" y2="741.20" stroke="#6a6a6a" stroke-width="1.0" />
<line x1="145.80" y1="741.20" x2="149.20" y2="741.20" stroke="#6a6a6a" stroke-width="1.0" />
<rect x="144.43" y="746.52" width="6.15" height="34.18" fill="#ababab" stroke="#000" stroke-width="1.25" />
<line x1="154.55" y1="763.36" x2="154.55" y2="760.50" stroke="#6a6a6a" stroke-width="1.0" />
<line x1="152.85" y1="760.50" x2="156.25" y2="760.50" stroke="#6a6a6a" stroke-width="1.0" />
<rect x="150.70" y="763.36" width="7.20" height="17.84" fill="#000"/>
<text transform="translate(149.50,787.80) rotate(-90)" font-size="14" text-anchor="end" font-weight="normal">CDC2</text>
<line x1="169.10" y1="644.20" x2="169.10" y2="636.20" stroke="#6a6a6a" stroke-width="1.0" />
<line x1="167.40" y1="636.20" x2="170.80" y2="636.20" stroke="#6a6a6a" stroke-width="1.0" />
<rect x="166.03" y="644.83" width="6.15" height="135.88" fill="#fff" stroke="#000" stroke-width="1.25" />
<rect x="172.43" y="695.33" width="6.15" height="85.37" fill="#ababab" stroke="#000" stroke-width="1.25" />
<line x1="182.55" y1="733.33" x2="182.55" y2="729.50" stroke="#6a6a6a" stroke-width="1.0" />
<line x1="180.85" y1="729.50" x2="184.25" y2="729.50" stroke="#6a6a6a" stroke-width="1.0" />
<rect x="178.70" y="733.33" width="7.20" height="47.87" fill="#000"/>
<text transform="translate(178.10,787.80) rotate(-90)" font-size="14" text-anchor="end" font-weight="normal">CDC16</text>
<line x1="197.00" y1="644.20" x2="197.00" y2="633.20" stroke="#6a6a6a" stroke-width="1.0" />
<line x1="195.30" y1="633.20" x2="198.70" y2="633.20" stroke="#6a6a6a" stroke-width="1.0" />
<rect x="193.93" y="644.83" width="6.15" height="135.88" fill="#fff" stroke="#000" stroke-width="1.25" />
<line x1="203.40" y1="691.98" x2="203.40" y2="685.70" stroke="#6a6a6a" stroke-width="1.0" />
<line x1="201.70" y1="685.70" x2="205.10" y2="685.70" stroke="#6a6a6a" stroke-width="1.0" />
<rect x="200.33" y="692.60" width="6.15" height="88.10" fill="#ababab" stroke="#000" stroke-width="1.25" />
<line x1="210.45" y1="728.42" x2="210.45" y2="724.20" stroke="#6a6a6a" stroke-width="1.0" />
<line x1="208.75" y1="724.20" x2="212.15" y2="724.20" stroke="#6a6a6a" stroke-width="1.0" />
<rect x="206.60" y="728.42" width="7.20" height="52.78" fill="#000"/>
<text transform="translate(205.50,787.80) rotate(-90)" font-size="14" text-anchor="end" font-weight="normal">CCNE2</text>
<line x1="253.20" y1="644.20" x2="253.20" y2="627.50" stroke="#6a6a6a" stroke-width="1.0" />
<line x1="251.50" y1="627.50" x2="254.90" y2="627.50" stroke="#6a6a6a" stroke-width="1.0" />
<rect x="250.12" y="644.83" width="6.15" height="135.88" fill="#fff" stroke="#000" stroke-width="1.25" />
<line x1="259.60" y1="696.34" x2="259.60" y2="688.00" stroke="#6a6a6a" stroke-width="1.0" />
<line x1="257.90" y1="688.00" x2="261.30" y2="688.00" stroke="#6a6a6a" stroke-width="1.0" />
<rect x="256.52" y="696.97" width="6.15" height="83.73" fill="#ababab" stroke="#000" stroke-width="1.25" />
<rect x="262.80" y="727.60" width="7.20" height="53.60" fill="#000"/>
<text transform="translate(265.50,787.80) rotate(-90)" font-size="14" text-anchor="end" font-weight="normal">PIK3CD</text>
<line x1="281.30" y1="644.20" x2="281.30" y2="640.00" stroke="#6a6a6a" stroke-width="1.0" />
<line x1="279.60" y1="640.00" x2="283.00" y2="640.00" stroke="#6a6a6a" stroke-width="1.0" />
<rect x="278.23" y="644.83" width="6.15" height="135.88" fill="#fff" stroke="#000" stroke-width="1.25" />
<line x1="287.70" y1="711.90" x2="287.70" y2="709.50" stroke="#6a6a6a" stroke-width="1.0" />
<line x1="286.00" y1="709.50" x2="289.40" y2="709.50" stroke="#6a6a6a" stroke-width="1.0" />
<rect x="284.62" y="712.53" width="6.15" height="68.17" fill="#ababab" stroke="#000" stroke-width="1.25" />
<rect x="290.90" y="737.16" width="7.20" height="44.04" fill="#000"/>
<text transform="translate(293.80,787.80) rotate(-90)" font-size="14" text-anchor="end" font-weight="normal">PIK3C2B</text>
<line x1="309.50" y1="644.20" x2="309.50" y2="630.00" stroke="#6a6a6a" stroke-width="1.0" />
<line x1="307.80" y1="630.00" x2="311.20" y2="630.00" stroke="#6a6a6a" stroke-width="1.0" />
<rect x="306.43" y="644.83" width="6.15" height="135.88" fill="#fff" stroke="#000" stroke-width="1.25" />
<line x1="315.90" y1="705.90" x2="315.90" y2="694.50" stroke="#6a6a6a" stroke-width="1.0" />
<line x1="314.20" y1="694.50" x2="317.60" y2="694.50" stroke="#6a6a6a" stroke-width="1.0" />
<rect x="312.82" y="706.52" width="6.15" height="74.18" fill="#ababab" stroke="#000" stroke-width="1.25" />
<line x1="322.95" y1="738.11" x2="322.95" y2="734.20" stroke="#6a6a6a" stroke-width="1.0" />
<line x1="321.25" y1="734.20" x2="324.65" y2="734.20" stroke="#6a6a6a" stroke-width="1.0" />
<rect x="319.10" y="738.11" width="7.20" height="43.09" fill="#000"/>
<text transform="translate(323.60,787.80) rotate(-90)" font-size="14" text-anchor="end" font-weight="normal">PIP4K2B</text>
<rect x="347.60" y="656.30" width="169.20" height="74.80" fill="none" stroke="#000" stroke-width="2.3" />
<rect x="352.10" y="663.40" width="25.00" height="9.90" fill="#fff" stroke="#000" stroke-width="1.8" />
<rect x="352.10" y="679.40" width="25.00" height="9.80" fill="#ababab" stroke="#000" stroke-width="1.8" />
<rect x="352.10" y="694.20" width="25.00" height="10.60" fill="#000" stroke="#000" stroke-width="1.8" />
<text x="386.20" y="672.60" font-size="14.15" text-anchor="start" font-weight="normal" fill="#000" >Promoter + vector</text>
<text x="386.20" y="689.60" font-size="14.15" text-anchor="start" font-weight="normal" fill="#000" >Promoter + Ikaros</text>
<text x="387.40" y="707.30" font-size="14.15" text-anchor="start" font-weight="normal" fill="#000" >Promoter + Ikaros</text>
<text x="387.3" y="723.6" font-size="14" letter-spacing="0.12">+20<tspan font-size="15" font-family="'Liberation Serif', 'DejaVu Serif', serif">&#956;</tspan>M CX-4945</text>
<text x="287.70" y="869.00" font-size="16.2" text-anchor="middle" font-weight="bold" fill="#000" >Effects of CK2 Inhibition on Ikaros Target Expression</text>
<text x="287.70" y="886.50" font-size="16.2" text-anchor="middle" font-weight="bold" fill="#000" >in Cells with Ikaros Knockdown</text>
<line x1="47.00" y1="901.00" x2="515.00" y2="901.00" stroke="#000" stroke-width="2.2" />
<text x="0.10" y="926.00" font-size="25" text-anchor="start" font-weight="bold" fill="#000" >E</text>
<text x="167.90" y="930.70" font-size="16.5" text-anchor="middle" font-weight="bold" fill="#000" >Cell Cycle</text>
<line x1="50.60" y1="936.10" x2="50.60" y2="1116.60" stroke="#000" stroke-width="1.4" />
<line x1="42.00" y1="1116.00" x2="50.60" y2="1116.00" stroke="#000" stroke-width="1.3" />
<line x1="42.00" y1="1077.75" x2="50.60" y2="1077.75" stroke="#000" stroke-width="1.3" />
<line x1="42.00" y1="1039.50" x2="50.60" y2="1039.50" stroke="#000" stroke-width="1.3" />
<line x1="42.00" y1="1001.25" x2="50.60" y2="1001.25" stroke="#000" stroke-width="1.3" />
<line x1="42.00" y1="963.00" x2="50.60" y2="963.00" stroke="#000" stroke-width="1.3" />
<line x1="42.00" y1="944.40" x2="50.60" y2="944.40" stroke="#000" stroke-width="1.3" />
<line x1="46.20" y1="1096.88" x2="50.60" y2="1096.88" stroke="#000" stroke-width="1.2" />
<line x1="46.20" y1="1058.62" x2="50.60" y2="1058.62" stroke="#000" stroke-width="1.2" />
<line x1="46.20" y1="1020.38" x2="50.60" y2="1020.38" stroke="#000" stroke-width="1.2" />
<line x1="46.20" y1="982.12" x2="50.60" y2="982.12" stroke="#000" stroke-width="1.2" />
<line x1="46.20" y1="936.70" x2="50.60" y2="936.70" stroke="#000" stroke-width="1.2" />
<text x="40.60" y="1121.00" font-size="14" text-anchor="end" font-weight="normal" fill="#000" >0.0</text>
<text x="40.60" y="1082.75" font-size="14" text-anchor="end" font-weight="normal" fill="#000" >0.5</text>
<text x="40.60" y="1044.50" font-size="14" text-anchor="end" font-weight="normal" fill="#000" >1.0</text>
<text x="40.60" y="1006.25" font-size="14" text-anchor="end" font-weight="normal" fill="#000" >1.5</text>
<text x="41.30" y="967.60" font-size="14" text-anchor="end" font-weight="normal" fill="#000" >2.0</text>
<text x="41.30" y="949.40" font-size="14" text-anchor="end" font-weight="normal" fill="#000" >3.0</text>
<rect x="48.6" y="952.70" width="4" height="2.60" fill="#fff"/>
<line x1="42.10" y1="954.50" x2="59.40" y2="951.30" stroke="#000" stroke-width="1.4" />
<line x1="42.10" y1="957.10" x2="59.40" y2="953.90" stroke="#000" stroke-width="1.4" />
<line x1="49.90" y1="1116.00" x2="321.00" y2="1116.00" stroke="#000" stroke-width="1.4" />
<text transform="translate(13.70,1028.50) rotate(-90)" font-size="14.33" text-anchor="middle" font-weight="normal">Relative Gene Experession</text>
<line x1="71.30" y1="946.60" x2="71.30" y2="944.30" stroke="#6a6a6a" stroke-width="1.0" />
<line x1="69.80" y1="944.30" x2="72.80" y2="944.30" stroke="#6a6a6a" stroke-width="1.0" />
<rect x="68.10" y="946.60" width="6.30" height="169.90" fill="#1c1c1c"/>
<rect x="69.75" y="947.90" width="3.00" height="168.20" fill="#707070"/>
<line x1="76.20" y1="1039.50" x2="76.20" y2="1035.80" stroke="#6a6a6a" stroke-width="1.0" />
<line x1="74.70" y1="1035.80" x2="77.70" y2="1035.80" stroke="#6a6a6a" stroke-width="1.0" />
<rect x="74.10" y="1040.05" width="4.25" height="75.95" fill="#fff" stroke="#000" stroke-width="1.1" />
<rect x="78.90" y="1090.54" width="3.55" height="25.46" fill="#ababab" stroke="#000" stroke-width="1.1" />
<line x1="85.95" y1="1062.83" x2="85.95" y2="1057.30" stroke="#555" stroke-width="1.0" />
<line x1="84.45" y1="1057.30" x2="87.45" y2="1057.30" stroke="#555" stroke-width="1.0" />
<rect x="82.50" y="1062.83" width="6.40" height="53.67" fill="#000"/>
<rect x="67.90" y="953.00" width="7.00" height="2.6" fill="#fff"/>
<text transform="translate(79.50,1122.20) rotate(-90)" font-size="13.65" text-anchor="end" font-weight="normal">ANAPC1</text>
<line x1="98.68" y1="984.42" x2="98.68" y2="973.20" stroke="#6a6a6a" stroke-width="1.0" />
<line x1="97.18" y1="973.20" x2="100.18" y2="973.20" stroke="#6a6a6a" stroke-width="1.0" />
<rect x="95.48" y="984.42" width="6.30" height="132.08" fill="#1c1c1c"/>
<rect x="97.13" y="985.72" width="3.00" height="130.38" fill="#707070"/>
<line x1="103.58" y1="1039.50" x2="103.58" y2="1038.00" stroke="#6a6a6a" stroke-width="1.0" />
<line x1="102.08" y1="1038.00" x2="105.08" y2="1038.00" stroke="#6a6a6a" stroke-width="1.0" />
<rect x="101.48" y="1040.05" width="4.25" height="75.95" fill="#fff" stroke="#000" stroke-width="1.1" />
<rect x="106.28" y="1087.10" width="3.55" height="28.90" fill="#ababab" stroke="#000" stroke-width="1.1" />
<line x1="113.33" y1="1025.73" x2="113.33" y2="1023.80" stroke="#555" stroke-width="1.0" />
<line x1="111.83" y1="1023.80" x2="114.83" y2="1023.80" stroke="#555" stroke-width="1.0" />
<rect x="109.88" y="1025.73" width="6.40" height="90.77" fill="#000"/>
<text transform="translate(109.20,1125.10) rotate(-90)" font-size="13.65" text-anchor="end" font-weight="normal">ANAPC7</text>
<line x1="126.06" y1="955.60" x2="126.06" y2="949.80" stroke="#6a6a6a" stroke-width="1.0" />
<line x1="124.56" y1="949.80" x2="127.56" y2="949.80" stroke="#6a6a6a" stroke-width="1.0" />
<rect x="122.86" y="955.60" width="6.30" height="160.90" fill="#1c1c1c"/>
<rect x="124.51" y="956.90" width="3.00" height="159.20" fill="#707070"/>
<line x1="130.96" y1="1039.50" x2="130.96" y2="1036.00" stroke="#6a6a6a" stroke-width="1.0" />
<line x1="129.46" y1="1036.00" x2="132.46" y2="1036.00" stroke="#6a6a6a" stroke-width="1.0" />
<rect x="128.86" y="1040.05" width="4.25" height="75.95" fill="#fff" stroke="#000" stroke-width="1.1" />
<line x1="135.41" y1="1098.79" x2="135.41" y2="1096.50" stroke="#6a6a6a" stroke-width="1.0" />
<line x1="133.91" y1="1096.50" x2="136.91" y2="1096.50" stroke="#6a6a6a" stroke-width="1.0" />
<rect x="133.66" y="1099.34" width="3.55" height="16.66" fill="#ababab" stroke="#000" stroke-width="1.1" />
<rect x="137.26" y="1066.35" width="6.40" height="50.15" fill="#000"/>
<text transform="translate(137.20,1123.30) rotate(-90)" font-size="14.2" text-anchor="end" font-weight="normal">CDC2</text>
<line x1="153.44" y1="983.12" x2="153.44" y2="973.00" stroke="#6a6a6a" stroke-width="1.0" />
<line x1="151.94" y1="973.00" x2="154.94" y2="973.00" stroke="#6a6a6a" stroke-width="1.0" />
<rect x="150.24" y="983.12" width="6.30" height="133.38" fill="#1c1c1c"/>
<rect x="151.89" y="984.42" width="3.00" height="131.68" fill="#707070"/>
<rect x="156.24" y="1040.05" width="4.25" height="75.95" fill="#fff" stroke="#000" stroke-width="1.1" />
<rect x="164.64" y="1060.38" width="6.40" height="56.12" fill="#000"/>
<text transform="translate(164.70,1124.10) rotate(-90)" font-size="14" text-anchor="end" font-weight="normal">CDC7</text>
<line x1="180.82" y1="944.50" x2="180.82" y2="941.40" stroke="#6a6a6a" stroke-width="1.0" />
<line x1="179.32" y1="941.40" x2="182.32" y2="941.40" stroke="#6a6a6a" stroke-width="1.0" />
<rect x="177.62" y="944.50" width="6.30" height="172.00" fill="#1c1c1c"/>
<rect x="179.27" y="945.80" width="3.00" height="170.30" fill="#707070"/>
<rect x="183.62" y="1040.05" width="4.25" height="75.95" fill="#fff" stroke="#000" stroke-width="1.1" />
<rect x="188.42" y="1088.47" width="3.55" height="27.53" fill="#ababab" stroke="#000" stroke-width="1.1" />
<line x1="195.47" y1="1060.15" x2="195.47" y2="1058.50" stroke="#555" stroke-width="1.0" />
<line x1="193.97" y1="1058.50" x2="196.97" y2="1058.50" stroke="#555" stroke-width="1.0" />
<rect x="192.02" y="1060.15" width="6.40" height="56.35" fill="#000"/>
<rect x="177.42" y="953.00" width="7.00" height="2.6" fill="#fff"/>
<text transform="translate(190.50,1123.30) rotate(-90)" font-size="14" text-anchor="end" font-weight="normal">CDC16</text>
<line x1="208.20" y1="983.04" x2="208.20" y2="969.40" stroke="#6a6a6a" stroke-width="1.0" />
<line x1="206.70" y1="969.40" x2="209.70" y2="969.40" stroke="#6a6a6a" stroke-width="1.0" />
<rect x="205.00" y="983.04" width="6.30" height="133.46" fill="#1c1c1c"/>
<rect x="206.65" y="984.34" width="3.00" height="131.76" fill="#707070"/>
<line x1="213.10" y1="1039.50" x2="213.10" y2="1037.50" stroke="#6a6a6a" stroke-width="1.0" />
<line x1="211.60" y1="1037.50" x2="214.60" y2="1037.50" stroke="#6a6a6a" stroke-width="1.0" />
<rect x="211.00" y="1040.05" width="4.25" height="75.95" fill="#fff" stroke="#000" stroke-width="1.1" />
<rect x="215.80" y="1114.25" width="3.55" height="1.75" fill="#ababab" stroke="#000" stroke-width="1.1" />
<line x1="222.85" y1="1042.56" x2="222.85" y2="1038.60" stroke="#555" stroke-width="1.0" />
<line x1="221.35" y1="1038.60" x2="224.35" y2="1038.60" stroke="#555" stroke-width="1.0" />
<rect x="219.40" y="1042.56" width="6.40" height="73.94" fill="#000"/>
<text transform="translate(221.50,1123.90) rotate(-90)" font-size="14.3" text-anchor="end" font-weight="normal">CDK6</text>
<line x1="235.58" y1="972.18" x2="235.58" y2="961.40" stroke="#6a6a6a" stroke-width="1.0" />
<line x1="234.08" y1="961.40" x2="237.08" y2="961.40" stroke="#6a6a6a" stroke-width="1.0" />
<rect x="232.38" y="972.18" width="6.30" height="144.32" fill="#1c1c1c"/>
<rect x="234.03" y="973.48" width="3.00" height="142.62" fill="#707070"/>
<line x1="240.48" y1="1039.50" x2="240.48" y2="1035.00" stroke="#6a6a6a" stroke-width="1.0" />
<line x1="238.98" y1="1035.00" x2="241.98" y2="1035.00" stroke="#6a6a6a" stroke-width="1.0" />
<rect x="238.38" y="1040.05" width="4.25" height="75.95" fill="#fff" stroke="#000" stroke-width="1.1" />
<rect x="243.18" y="1109.66" width="3.55" height="6.33" fill="#ababab" stroke="#000" stroke-width="1.1" />
<line x1="250.23" y1="1063.21" x2="250.23" y2="1060.50" stroke="#555" stroke-width="1.0" />
<line x1="248.73" y1="1060.50" x2="251.73" y2="1060.50" stroke="#555" stroke-width="1.0" />
<rect x="246.78" y="1063.21" width="6.40" height="53.29" fill="#000"/>
<text transform="translate(249.20,1124.50) rotate(-90)" font-size="14.1" text-anchor="end" font-weight="normal">CDK2</text>
<line x1="262.96" y1="941.70" x2="262.96" y2="939.20" stroke="#6a6a6a" stroke-width="1.0" />
<line x1="261.46" y1="939.20" x2="264.46" y2="939.20" stroke="#6a6a6a" stroke-width="1.0" />
<rect x="259.76" y="941.70" width="6.30" height="174.80" fill="#1c1c1c"/>
<rect x="261.41" y="943.00" width="3.00" height="173.10" fill="#707070"/>
<rect x="265.76" y="1040.05" width="4.25" height="75.95" fill="#fff" stroke="#000" stroke-width="1.1" />
<line x1="272.31" y1="1090.45" x2="272.31" y2="1083.00" stroke="#6a6a6a" stroke-width="1.0" />
<line x1="270.81" y1="1083.00" x2="273.81" y2="1083.00" stroke="#6a6a6a" stroke-width="1.0" />
<rect x="270.56" y="1091.00" width="3.55" height="25.00" fill="#ababab" stroke="#000" stroke-width="1.1" />
<rect x="274.16" y="1068.88" width="6.40" height="47.62" fill="#000"/>
<rect x="259.56" y="953.00" width="7.00" height="2.6" fill="#fff"/>
<text transform="translate(275.20,1122.90) rotate(-90)" font-size="14.4" text-anchor="end" font-weight="normal">CDC25A</text>
<line x1="290.34" y1="987.71" x2="290.34" y2="979.20" stroke="#6a6a6a" stroke-width="1.0" />
<line x1="288.84" y1="979.20" x2="291.84" y2="979.20" stroke="#6a6a6a" stroke-width="1.0" />
<rect x="287.14" y="987.71" width="6.30" height="128.79" fill="#1c1c1c"/>
<rect x="288.79" y="989.01" width="3.00" height="127.09" fill="#707070"/>
<rect x="293.14" y="1040.05" width="4.25" height="75.95" fill="#fff" stroke="#000" stroke-width="1.1" />
<line x1="299.69" y1="1087.92" x2="299.69" y2="1080.80" stroke="#6a6a6a" stroke-width="1.0" />
<line x1="298.19" y1="1080.80" x2="301.19" y2="1080.80" stroke="#6a6a6a" stroke-width="1.0" />
<rect x="297.94" y="1088.47" width="3.55" height="27.53" fill="#ababab" stroke="#000" stroke-width="1.1" />
<line x1="304.99" y1="1056.56" x2="304.99" y2="1055.00" stroke="#555" stroke-width="1.0" />
<line x1="303.49" y1="1055.00" x2="306.49" y2="1055.00" stroke="#555" stroke-width="1.0" />
<rect x="301.54" y="1056.56" width="6.40" height="59.94" fill="#000"/>
<text transform="translate(300.50,1122.90) rotate(-90)" font-size="13.9" text-anchor="end" font-weight="normal">CDC20</text>
<text x="295.70" y="925.50" font-size="25" text-anchor="start" font-weight="bold" fill="#000" >F</text>
<text x="433.50" y="930.00" font-size="16.5" text-anchor="middle" font-weight="bold" fill="#000" >PI3K Pathway</text>
<line x1="351.10" y1="935.00" x2="351.10" y2="1118.10" stroke="#000" stroke-width="1.4" />
<line x1="342.90" y1="1117.50" x2="351.10" y2="1117.50" stroke="#000" stroke-width="1.3" />
<line x1="342.90" y1="1059.40" x2="351.10" y2="1059.40" stroke="#000" stroke-width="1.3" />
<line x1="342.90" y1="1001.30" x2="351.10" y2="1001.30" stroke="#000" stroke-width="1.3" />
<line x1="342.90" y1="935.70" x2="351.10" y2="935.70" stroke="#000" stroke-width="1.3" />
<line x1="342.90" y1="943.60" x2="351.10" y2="943.60" stroke="#000" stroke-width="1.3" />
<line x1="342.90" y1="952.10" x2="351.10" y2="952.10" stroke="#000" stroke-width="1.3" />
<line x1="347.10" y1="1088.45" x2="351.10" y2="1088.45" stroke="#000" stroke-width="1.2" />
<line x1="347.10" y1="1030.35" x2="351.10" y2="1030.35" stroke="#000" stroke-width="1.2" />
<line x1="347.10" y1="972.25" x2="351.10" y2="972.25" stroke="#000" stroke-width="1.2" />
<text x="341.20" y="1122.50" font-size="14" text-anchor="end" font-weight="normal" fill="#000" >0.0</text>
<text x="338.00" y="1064.40" font-size="14" text-anchor="end" font-weight="normal" fill="#000" >1.0</text>
<text x="338.00" y="1006.30" font-size="14" text-anchor="end" font-weight="normal" fill="#000" >2.0</text>
<text transform="translate(339,937.8) scale(1,0.87)" font-size="14" text-anchor="end">15.0</text>
<text transform="translate(339,948.7) scale(1,0.87)" font-size="14" text-anchor="end">10.0</text>
<text transform="translate(339,959.9) scale(1,0.87)" font-size="14" text-anchor="end">5.0</text>
<line x1="344.80" y1="939.80" x2="351.10" y2="939.80" stroke="#000" stroke-width="1.2" />
<line x1="344.80" y1="947.80" x2="351.10" y2="947.80" stroke="#000" stroke-width="1.2" />
<rect x="349.1" y="951.75" width="4" height="3.00" fill="#fff"/>
<line x1="343.10" y1="953.40" x2="358.40" y2="950.50" stroke="#000" stroke-width="1.4" />
<line x1="343.10" y1="956.40" x2="358.40" y2="953.50" stroke="#000" stroke-width="1.4" />
<line x1="350.40" y1="1117.50" x2="517.50" y2="1117.50" stroke="#000" stroke-width="1.4" />
<rect x="366.00" y="935.50" width="6.20" height="182.50" fill="#1c1c1c"/>
<rect x="367.65" y="936.80" width="2.90" height="180.80" fill="#707070"/>
<rect x="371.90" y="1059.95" width="4.05" height="57.55" fill="#fff" stroke="#000" stroke-width="1.1" />
<line x1="378.15" y1="1102.51" x2="378.15" y2="1099.20" stroke="#6a6a6a" stroke-width="1.0" />
<line x1="376.65" y1="1099.20" x2="379.65" y2="1099.20" stroke="#6a6a6a" stroke-width="1.0" />
<rect x="376.50" y="1103.06" width="3.35" height="14.44" fill="#ababab" stroke="#000" stroke-width="1.1" />
<line x1="383.05" y1="1073.00" x2="383.05" y2="1069.50" stroke="#555" stroke-width="1.0" />
<line x1="381.55" y1="1069.50" x2="384.55" y2="1069.50" stroke="#555" stroke-width="1.0" />
<rect x="379.90" y="1073.00" width="5.80" height="45.00" fill="#000"/>
<rect x="365.80" y="953.00" width="6.90" height="2.6" fill="#fff"/>
<text transform="translate(375.45,1124.70) rotate(-90)" font-size="14.2" text-anchor="end" font-weight="normal">PIK3CD</text>
<line x1="394.57" y1="951.30" x2="394.57" y2="950.30" stroke="#6a6a6a" stroke-width="1.0" />
<line x1="393.07" y1="950.30" x2="396.07" y2="950.30" stroke="#6a6a6a" stroke-width="1.0" />
<rect x="391.42" y="951.30" width="6.20" height="166.70" fill="#1c1c1c"/>
<rect x="393.07" y="952.60" width="2.90" height="165.00" fill="#707070"/>
<rect x="397.32" y="1059.95" width="4.05" height="57.55" fill="#fff" stroke="#000" stroke-width="1.1" />
<rect x="401.92" y="1101.49" width="3.35" height="16.01" fill="#ababab" stroke="#000" stroke-width="1.1" />
<rect x="405.32" y="1064.98" width="5.80" height="53.02" fill="#000"/>
<rect x="391.22" y="953.00" width="6.90" height="2.6" fill="#fff"/>
<text transform="translate(403.50,1123.50) rotate(-90)" font-size="14.2" text-anchor="end" font-weight="normal">PIK3C2B</text>
<line x1="419.99" y1="1015.48" x2="419.99" y2="1009.50" stroke="#6a6a6a" stroke-width="1.0" />
<line x1="418.49" y1="1009.50" x2="421.49" y2="1009.50" stroke="#6a6a6a" stroke-width="1.0" />
<rect x="416.84" y="1015.48" width="6.20" height="102.52" fill="#1c1c1c"/>
<rect x="418.49" y="1016.78" width="2.90" height="100.82" fill="#707070"/>
<line x1="424.74" y1="1059.40" x2="424.74" y2="1057.50" stroke="#6a6a6a" stroke-width="1.0" />
<line x1="423.24" y1="1057.50" x2="426.24" y2="1057.50" stroke="#6a6a6a" stroke-width="1.0" />
<rect x="422.74" y="1059.95" width="4.05" height="57.55" fill="#fff" stroke="#000" stroke-width="1.1" />
<rect x="427.34" y="1093.82" width="3.35" height="23.68" fill="#ababab" stroke="#000" stroke-width="1.1" />
<rect x="430.74" y="1072.47" width="5.80" height="45.53" fill="#000"/>
<text transform="translate(431.35,1122.70) rotate(-90)" font-size="14.2" text-anchor="end" font-weight="normal">PI3KFYVE</text>
<line x1="445.41" y1="974.57" x2="445.41" y2="965.70" stroke="#6a6a6a" stroke-width="1.0" />
<line x1="443.91" y1="965.70" x2="446.91" y2="965.70" stroke="#6a6a6a" stroke-width="1.0" />
<rect x="442.26" y="974.57" width="6.20" height="143.43" fill="#1c1c1c"/>
<rect x="443.91" y="975.87" width="2.90" height="141.73" fill="#707070"/>
<rect x="448.16" y="1059.95" width="4.05" height="57.55" fill="#fff" stroke="#000" stroke-width="1.1" />
<rect x="452.76" y="1096.03" width="3.35" height="21.47" fill="#ababab" stroke="#000" stroke-width="1.1" />
<line x1="459.31" y1="1051.27" x2="459.31" y2="1048.70" stroke="#555" stroke-width="1.0" />
<line x1="457.81" y1="1048.70" x2="460.81" y2="1048.70" stroke="#555" stroke-width="1.0" />
<rect x="456.16" y="1051.27" width="5.80" height="66.73" fill="#000"/>
<text transform="translate(458.40,1123.50) rotate(-90)" font-size="14.2" text-anchor="end" font-weight="normal">PI4KB</text>
<line x1="470.83" y1="1022.51" x2="470.83" y2="1016.20" stroke="#6a6a6a" stroke-width="1.0" />
<line x1="469.33" y1="1016.20" x2="472.33" y2="1016.20" stroke="#6a6a6a" stroke-width="1.0" />
<rect x="467.68" y="1022.51" width="6.20" height="95.49" fill="#1c1c1c"/>
<rect x="469.33" y="1023.81" width="2.90" height="93.79" fill="#707070"/>
<rect x="473.58" y="1059.95" width="4.05" height="57.55" fill="#fff" stroke="#000" stroke-width="1.1" />
<rect x="478.18" y="1114.27" width="3.35" height="3.23" fill="#ababab" stroke="#000" stroke-width="1.1" />
<line x1="484.73" y1="1075.09" x2="484.73" y2="1072.00" stroke="#555" stroke-width="1.0" />
<line x1="483.23" y1="1072.00" x2="486.23" y2="1072.00" stroke="#555" stroke-width="1.0" />
<rect x="481.58" y="1075.09" width="5.80" height="42.91" fill="#000"/>
<text transform="translate(485.40,1122.70) rotate(-90)" font-size="14.2" text-anchor="end" font-weight="normal">PIP4K2B</text>
<line x1="496.25" y1="1066.95" x2="496.25" y2="1061.20" stroke="#6a6a6a" stroke-width="1.0" />
<line x1="494.75" y1="1061.20" x2="497.75" y2="1061.20" stroke="#6a6a6a" stroke-width="1.0" />
<rect x="493.10" y="1066.95" width="6.20" height="51.05" fill="#1c1c1c"/>
<rect x="494.75" y="1068.25" width="2.90" height="49.35" fill="#707070"/>
<rect x="499.00" y="1059.95" width="3.65" height="57.55" fill="#fff" stroke="#000" stroke-width="1.1" />
<line x1="505.35" y1="978.64" x2="505.35" y2="971.20" stroke="#6a6a6a" stroke-width="1.0" />
<line x1="503.85" y1="971.20" x2="506.85" y2="971.20" stroke="#6a6a6a" stroke-width="1.0" />
<rect x="503.20" y="979.19" width="4.35" height="138.31" fill="#ababab" stroke="#000" stroke-width="1.1" />
<rect x="507.60" y="1058.82" width="5.20" height="59.18" fill="#000"/>
<text transform="translate(512.00,1122.30) rotate(-90)" font-size="14.2" text-anchor="end" font-weight="normal">INPP5D</text>
<rect x="167.30" y="1194.50" width="213.60" height="74.40" fill="none" stroke="#000" stroke-width="2.3" />
<rect x="174.65" y="1202.15" width="20.20" height="9.45" fill="#6a6a6a" stroke="#000" stroke-width="1.8" />
<rect x="174.65" y="1219.15" width="20.20" height="9.95" fill="#fff" stroke="#000" stroke-width="1.8" />
<rect x="174.65" y="1235.40" width="20.20" height="9.95" fill="#ababab" stroke="#000" stroke-width="1.8" />
<rect x="174.65" y="1252.15" width="20.20" height="10.70" fill="#000" stroke="#000" stroke-width="1.8" />
<text x="203.00" y="1212.00" font-size="14" text-anchor="start" font-weight="normal" fill="#000" >IK shRNA</text>
<text x="201.30" y="1228.70" font-size="14.1" text-anchor="start" font-weight="normal" fill="#000" >Scramble shRNA</text>
<text x="201.30" y="1244.80" font-size="14.1" text-anchor="start" font-weight="normal" fill="#000" >Scramble shRNA + C-X4945</text>
<text x="203.00" y="1262.50" font-size="14" text-anchor="start" font-weight="normal" fill="#000" >IK shRNA + CX-4945</text>
</svg></body></html>
